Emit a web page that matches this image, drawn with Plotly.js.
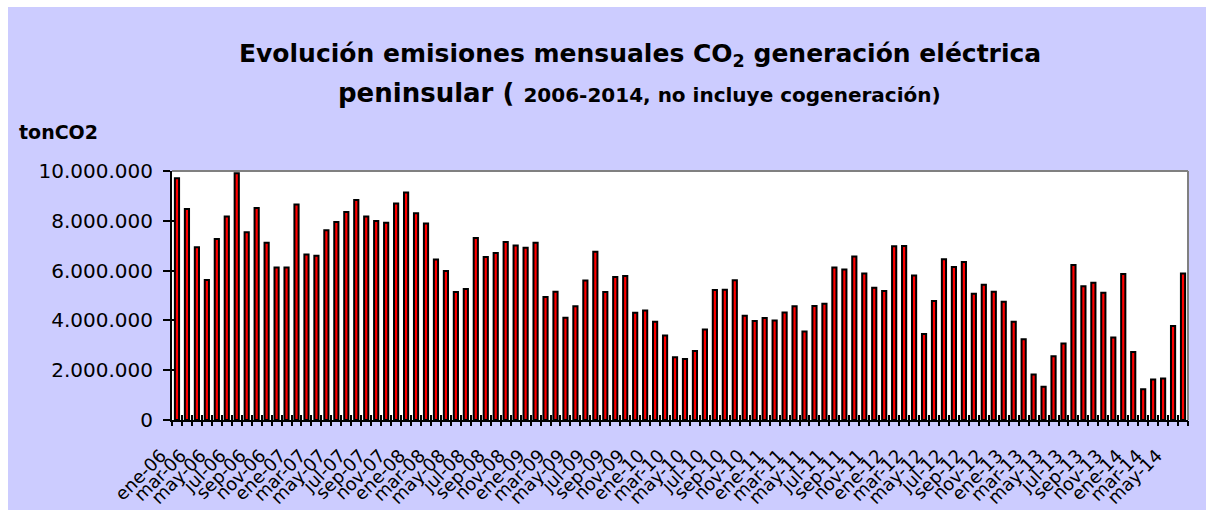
<!DOCTYPE html>
<html>
<head>
<meta charset="utf-8">
<script src="https://cdn.plot.ly/plotly-3.0.1.min.js"></script>
<style>
  html, body { margin: 0; padding: 0; background: #ffffff; }
  #chart { position: absolute; left: 8px; top: 7px; width: 1198px; height: 503px; }
</style>
</head>
<body>
<div id="chart"></div>
<script>
// ---- data ----
const monthNames = ['ene','feb','mar','abr','may','jun','jul','ago','sep','oct','nov','dic'];
const yearLabels = ['06','07','08','09','10','11','12','13','14'];

// monthly CO2 emissions (tonCO2), ene-06 .. jun-14
const emissions = [
  9710000, 8470000, 6940000, 5620000, 7270000, 8170000, 9910000, 7540000, 8510000, 7120000, 6120000, 6120000,
  8650000, 6650000, 6600000, 7620000, 7950000, 8350000, 8840000, 8170000, 7990000, 7920000, 8690000, 9140000,
  8300000, 7890000, 6450000, 5980000, 5140000, 5260000, 7310000, 6550000, 6710000, 7150000, 7010000, 6920000,
  7120000, 4940000, 5150000, 4110000, 4570000, 5600000, 6760000, 5140000, 5740000, 5780000, 4310000, 4400000,
  3950000, 3390000, 2520000, 2450000, 2770000, 3630000, 5220000, 5230000, 5610000, 4190000, 3980000, 4100000,
  4000000, 4320000, 4570000, 3550000, 4580000, 4670000, 6120000, 6040000, 6570000, 5880000, 5310000, 5180000,
  6980000, 6990000, 5800000, 3450000, 4780000, 6460000, 6140000, 6350000, 5070000, 5430000, 5150000, 4750000,
  3950000, 3240000, 1830000, 1340000, 2560000, 3070000, 6220000, 5370000, 5510000, 5110000, 3310000, 5860000,
  2730000, 1230000, 1630000, 1670000, 3780000, 5880000
];

const yTickVals = [0, 2000000, 4000000, 6000000, 8000000, 10000000];

// ---- derived category labels ----
const categories = [];
yearLabels.forEach(y => monthNames.forEach(m => categories.push(m + '-' + y)));
const cats = categories.slice(0, emissions.length);
const labelCats = cats.filter((c, i) => i % 2 === 0);
const nCats = cats.length;

const FONT = 'DejaVu Sans, Liberation Sans, Arial, sans-serif';

const traces = [
  {
    type: 'bar',
    x: cats,
    y: emissions,
    width: 0.42,
    marker: { color: '#FF0000', line: { color: '#000000', width: 2 } },
    hoverinfo: 'x+y',
    showlegend: false
  },
  { type: 'bar', x: [], y: [], xaxis: 'x2', yaxis: 'y2', showlegend: false, hoverinfo: 'skip' },
  { type: 'bar', x: [], y: [], xaxis: 'x3', yaxis: 'y2', showlegend: false, hoverinfo: 'skip' }
];

function tickAxis(side) {
  return {
    overlaying: 'x',
    anchor: 'y',
    type: 'linear',
    range: [-0.5, nCats - 0.5],
    tickmode: 'linear',
    tick0: -0.5,
    dtick: 1,
    ticks: side,
    ticklen: 5,
    tickwidth: 2,
    tickcolor: '#000000',
    showticklabels: false,
    showline: false,
    showgrid: false,
    zeroline: false
  };
}

const layout = {
  width: 1198,
  height: 503,
  paper_bgcolor: '#CCCCFF',
  plot_bgcolor: '#FFFFFF',
  separators: ',.',
  margin: { l: 164, r: 18, t: 164, b: 90 },
  showlegend: false,
  font: { family: FONT, color: '#000000' },
  xaxis: {
    type: 'category',
    categoryorder: 'array',
    categoryarray: cats,
    range: [-0.5, nCats - 0.5],
    tickmode: 'array',
    tickvals: labelCats,
    ticktext: labelCats,
    ticks: '',
    tickangle: -45,
    tickfont: { family: FONT, size: 18, color: '#000000' },
    ticklabelstandoff: 16,
    ticklabelshift: -16,
    showline: true,
    linecolor: '#000000',
    linewidth: 2,
    showgrid: false,
    zeroline: false
  },
  xaxis2: tickAxis('outside'),
  xaxis3: tickAxis('inside'),
  yaxis: {
    range: [0, 10000000],
    tickmode: 'array',
    tickvals: yTickVals,
    tickformat: ',d',
    ticks: 'outside',
    ticklen: 7,
    tickwidth: 2,
    tickcolor: '#000000',
    tickfont: { family: FONT, size: 20, color: '#000000' },
    ticklabelstandoff: 6,
    showline: true,
    linecolor: '#000000',
    linewidth: 2,
    showgrid: false,
    zeroline: false
  },
  yaxis2: {
    overlaying: 'y',
    anchor: 'x',
    range: [0, 10000000],
    tickmode: 'array',
    tickvals: yTickVals,
    ticks: 'inside',
    ticklen: 3,
    tickwidth: 2,
    tickcolor: '#000000',
    showticklabels: false,
    showline: false,
    showgrid: false,
    zeroline: false
  },
  shapes: [
    { type: 'line', xref: 'paper', yref: 'paper', x0: 0, x1: 1, y0: 1, y1: 1,
      line: { color: '#808080', width: 2 } },
    { type: 'line', xref: 'paper', yref: 'paper', x0: 1, x1: 1, y0: 0, y1: 1,
      line: { color: '#808080', width: 2 } }
  ],
  annotations: [
    {
      text: '<b>Evolución emisiones mensuales CO<sub>2</sub> generación eléctrica</b>',
      xref: 'paper', yref: 'paper', x: 0.4606, y: 1.466,
      xanchor: 'center', yanchor: 'middle', showarrow: false,
      font: { family: FONT, size: 25, color: '#000000' }
    },
    {
      text: '<b>peninsular ( <span style="font-size:20px">2006-2014, no incluye cogeneración)</span></b>',
      xref: 'paper', yref: 'paper', x: 0.4606, y: 1.313,
      xanchor: 'center', yanchor: 'middle', showarrow: false,
      font: { family: FONT, size: 26, color: '#000000' }
    },
    {
      text: '<b>tonCO2</b>',
      xref: 'paper', yref: 'paper', x: -0.1526, y: 1.157,
      xanchor: 'left', yanchor: 'middle', showarrow: false,
      font: { family: FONT, size: 19, color: '#000000' }
    }
  ]
};

Plotly.newPlot('chart', traces, layout, { displayModeBar: false, staticPlot: true });
</script>
</body>
</html>
